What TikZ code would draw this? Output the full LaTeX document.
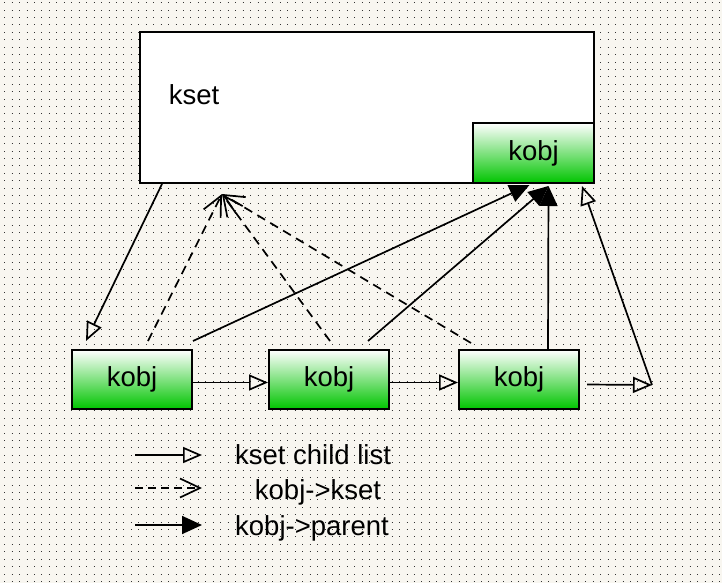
\documentclass[tikz,border=0pt]{standalone}
\usepackage{fontspec}
\setmainfont{Liberation Sans}
\usetikzlibrary{arrows.meta}
\definecolor{paper}{RGB}{248,246,240}
\definecolor{objgreen}{RGB}{0,196,0}
\tikzset{gridrow/.style={draw=black!80,line width=1pt,dash pattern=on 1pt off 6.45pt}}
\tikzset{setbox/.style={draw=black,line width=2pt,fill=white,minimum width=454pt,minimum height=151pt,inner sep=0pt}}
\tikzset{objbox/.style={draw=black,line width=2pt,top color=white,bottom color=objgreen,minimum width=120pt,minimum height=59pt,inner sep=0pt,font=\fontsize{27.5}{32}\selectfont}}
\tikzset{legendtext/.style={inner sep=0pt,font=\fontsize{27.5}{32}\selectfont}}
\tikzset{childlink/.style={line width=1.7pt,-{Triangle[open,length=19pt,width=16pt]}}}
\tikzset{setlink/.style={line width=1.7pt,dash pattern=on 9pt off 6pt,-{Straight Barb[length=20pt,width=19pt]}}}
\tikzset{parentlink/.style={line width=1.7pt,-{Triangle[length=20pt,width=18pt]}}}

\begin{document}
\begin{tikzpicture}[x=1pt,y=-1pt]
		\fill [paper] (0,0) rectangle (722,583);
		\useasboundingbox (0,0) rectangle (722,583);
		\foreach \row in {0,...,78}
			\draw [gridrow] (4.2,2.7+7.42*\row) -- (722,2.7+7.42*\row);
		
		\node [setbox] (kset) at (367,107.5) {};
		\node [legendtext] (ksetname) at (194,95) {kset};
		\node [objbox,minimum width=121pt,minimum height=60pt] (kobjtop) at (533.5,153) {kobj};
		
		\node [objbox] (kobja) at (132,379.5) {kobj};
		\node [objbox] (kobjb) at (329,379.5) {kobj};
		\node [objbox] (kobjc) at (519,379.5) {kobj};
		\coordinate (listend) at (652,385);
		
		% child list
		\draw [childlink] ([xshift=23pt]kset.south west) -- ([xshift=15pt,yshift=8pt]kobja.north west);
		\draw [childlink] ([yshift=-3pt]kobja.east) -- ([yshift=-3pt]kobjb.west);
		\draw [childlink] ([yshift=-3pt]kobjb.east) -- ([yshift=-3pt]kobjc.west);
		\draw [childlink] ([xshift=7pt,yshift=-5pt]kobjc.east) -- (listend);
		\draw [childlink] (listend) -- ([xshift=-13pt,yshift=-2pt]kset.south east);
		
		% kobj->kset
		\draw [setlink] ([xshift=16pt,yshift=8pt]kobja.north) -- ([xshift=83pt,yshift=-10pt]kset.south west);
		\draw [setlink] ([xshift=1pt,yshift=8pt]kobjb.north) -- ([xshift=83pt,yshift=-10pt]kset.south west);
		\draw [setlink] ([xshift=-48pt,yshift=6pt]kobjc.north) -- ([xshift=83pt,yshift=-10pt]kset.south west);
		
		% kobj->parent
		\draw [parentlink] ([xshift=61pt,yshift=8pt]kobja.north) -- ([xshift=-4pt,yshift=-1pt]kobjtop.south);
		\draw [parentlink] ([xshift=39pt,yshift=8pt]kobjb.north) -- ([xshift=15pt,yshift=-2pt]kobjtop.south);
		\draw [parentlink] ([xshift=29pt]kobjc.north) -- ([xshift=15pt,yshift=-2pt]kobjtop.south);
		
		% legend
		\coordinate (childfrom) at (135,455);
		\coordinate (childto) at (202,455);
		\coordinate (setfrom) at (135,488);
		\coordinate (setto) at (202,488);
		\coordinate (parentfrom) at (135,525);
		\coordinate (parentto) at (202,525);
		\draw [childlink] (childfrom) -- (childto);
		\draw [setlink,dash pattern=on 8pt off 5pt] (setfrom) -- (setto);
		\draw [parentlink] (parentfrom) -- (parentto);
		\node [legendtext] (childtext) at (313,455) {kset child list};
		\node [legendtext] (settext) at (318,492) {kobj->kset};
		\node [legendtext] (parenttext) at (312,528) {kobj->parent};
	\end{tikzpicture}
\end{document}
